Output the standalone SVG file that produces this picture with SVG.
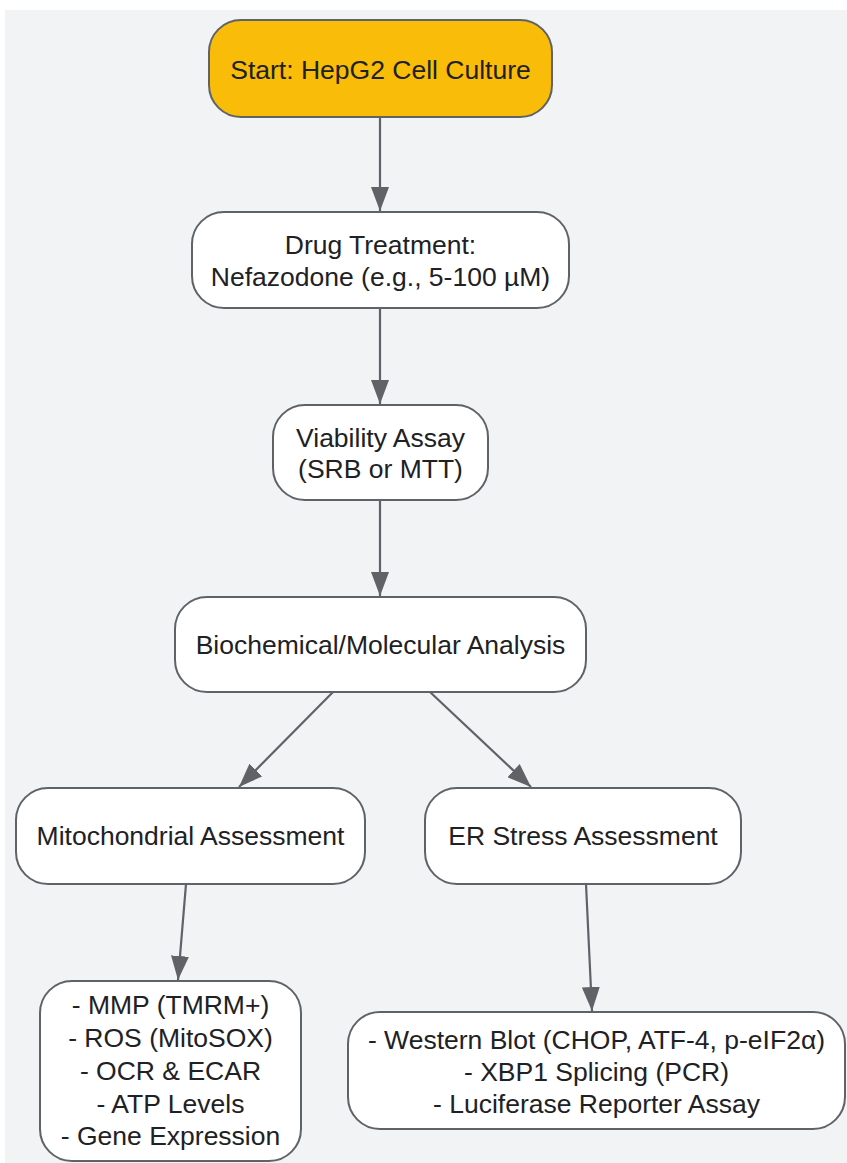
<svg xmlns="http://www.w3.org/2000/svg" width="847" height="1163" viewBox="0 0 847 1163">
<defs>
<style>
.n rect{fill:#ffffff;stroke:#5f6368;stroke-width:2}
.n text{font-family:"Liberation Sans",Arial,sans-serif;font-size:26.5px;fill:#202124;text-anchor:middle}
.e line{stroke:#5f6368;stroke-width:2.2;fill:none}
</style>
<marker id="a" viewBox="0 0 24 18" refX="24" refY="9" markerWidth="24" markerHeight="18" markerUnits="userSpaceOnUse" orient="auto">
<path d="M0,0 L24,9 L0,18 z" fill="#5f6368"/>
</marker>
</defs>
<rect x="5" y="10" width="842" height="1153" fill="#f1f3f4"/>
<g class="e">
<line x1="380" y1="117" x2="380" y2="211" marker-end="url(#a)"/>
<line x1="380" y1="308" x2="380" y2="404" marker-end="url(#a)"/>
<line x1="380" y1="500" x2="380" y2="596" marker-end="url(#a)"/>
<line x1="333" y1="692" x2="239" y2="787" marker-end="url(#a)"/>
<line x1="430" y1="692" x2="531" y2="787" marker-end="url(#a)"/>
<line x1="186" y1="884" x2="178" y2="980" marker-end="url(#a)"/>
<line x1="586" y1="884" x2="592" y2="1011" marker-end="url(#a)"/>
</g>
<g id="start" class="n"><rect x="209" y="20" width="343" height="97" rx="32" style="fill:#f9bc08"/><text x="380.5" y="79">Start: HepG2 Cell Culture</text></g>
<g id="drug" class="n"><rect x="192" y="212" width="377" height="96" rx="32"/><text x="380.5" y="254">Drug Treatment:</text><text x="380.5" y="286">Nefazodone (e.g., 5-100 µM)</text></g>
<g id="viability" class="n"><rect x="273" y="405" width="215" height="95" rx="32"/><text x="380.5" y="447">Viability Assay</text><text x="380.5" y="478">(SRB or MTT)</text></g>
<g id="biochem" class="n"><rect x="175" y="597" width="411" height="95" rx="32"/><text x="380.5" y="654">Biochemical/Molecular Analysis</text></g>
<g id="mito" class="n"><rect x="16" y="788" width="349" height="96" rx="32"/><text x="190.5" y="845">Mitochondrial Assessment</text></g>
<g id="er" class="n"><rect x="425" y="788" width="316" height="96" rx="32"/><text x="583" y="845">ER Stress Assessment</text></g>
<g id="mitoDetail" class="n"><rect x="40" y="981" width="261" height="180" rx="32"/><text x="170.5" y="1014">- MMP (TMRM+)</text><text x="170.5" y="1047">- ROS (MitoSOX)</text><text x="170.5" y="1080">- OCR &amp; ECAR</text><text x="170.5" y="1113">- ATP Levels</text><text x="170.5" y="1145">- Gene Expression</text></g>
<g id="erDetail" class="n"><rect x="348" y="1012" width="497" height="117" rx="32"/><text x="596.5" y="1049">- Western Blot (CHOP, ATF-4, p-eIF2α)</text><text x="596.5" y="1081">- XBP1 Splicing (PCR)</text><text x="596.5" y="1113">- Luciferase Reporter Assay</text></g>
</svg>
